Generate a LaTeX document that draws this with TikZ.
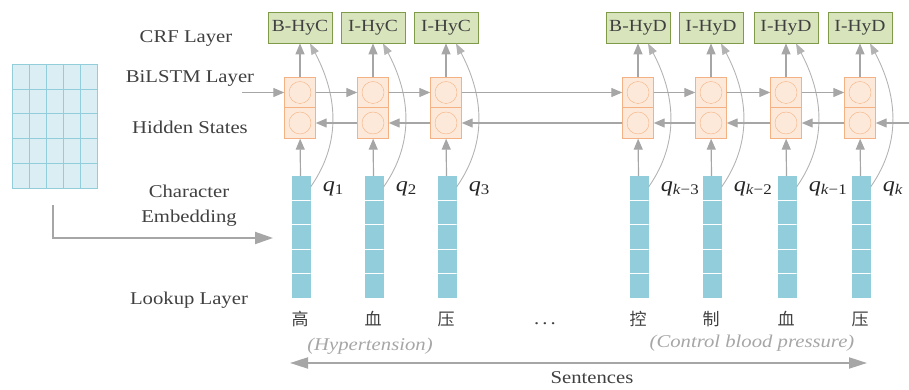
\documentclass[tikz,border=0pt]{standalone}
\usepackage{fontspec}
\setmainfont{Liberation Serif}[FakeStretch=1.15]
\newfontfamily\zhfont{Noto Sans CJK SC}
\usepackage{tikz}
\usetikzlibrary{arrows.meta,positioning,calc}
\definecolor{crfgreen}{HTML}{D8E4BC}
\definecolor{crfline}{HTML}{7F9A48}
\definecolor{cellfill}{HTML}{FDE9D9}
\definecolor{cellline}{HTML}{F4B183}
\definecolor{embblue}{HTML}{92CDDC}
\definecolor{gridfill}{HTML}{DAEEF3}
\definecolor{gridline}{HTML}{92CDDC}
\definecolor{arrowgray}{HTML}{A6A6A6}
\definecolor{textgray}{HTML}{404040}
\newcommand{\qlab}[1]{\textit{q}\textsubscript{#1}}

\begin{document}
\begin{tikzpicture}[x=1pt,y=1pt,
      every node/.style={text=textgray, font=\fontsize{18}{21}\selectfont},
      crf/.style={draw=crfline, fill=crfgreen, thick, minimum width=64pt, minimum height=31pt,
        inner sep=0, font=\fontsize{17}{20}\selectfont},
      cell/.style={draw=cellline, fill=cellfill, minimum size=31pt, inner sep=0,
        path picture={\draw[cellline] (path picture bounding box.center) circle (11pt);}},
      embed/.style={fill=embblue, minimum width=19pt, minimum height=122pt, inner sep=0,
        path picture={\foreach \k in {1,...,4}
          {\draw[white, line width=1pt] ([yshift=-\k*24.4pt]path picture bounding box.north west)
             -- ([yshift=-\k*24.4pt]path picture bounding box.north east);}}},
      lookup/.style={draw=gridline, fill=gridfill, minimum width=85pt, minimum height=124pt, inner sep=0,
        path picture={\foreach \k in {1,...,4}
          {\draw[gridline] ([xshift=\k*17pt]path picture bounding box.south west)
             -- ([xshift=\k*17pt]path picture bounding box.north west);
           \draw[gridline] ([yshift=\k*24.8pt]path picture bounding box.south west)
             -- ([yshift=\k*24.8pt]path picture bounding box.south east);}}},
      flow/.style={draw=arrowgray, line width=1.2pt, -{Triangle[length=11pt,width=9pt]}},
      skip/.style={draw=arrowgray!85, line width=0.9pt, -{Triangle[length=11pt,width=8pt]}},
      bigline/.style={draw=arrowgray, line width=2pt},
      qname/.style={anchor=west, inner sep=1pt, text=black!85, font=\fontsize{21}{24}\selectfont},
      gloss/.style={text=arrowgray, font=\fontsize{18}{21}\selectfont\itshape},
      word/.style={font=\fontsize{17}{20}\selectfont\zhfont}
  ]
  \useasboundingbox (0,0) rectangle (909,390);

  % columns: tag, hidden cells, embedding, character
  \foreach \i/\x/\tg/\q/\cc in {1/300/B-HyC/1/高, 2/373/I-HyC/2/血, 3/446/I-HyC/3/压,
      4/638/B-HyD/\textit{k}−3/控, 5/711/I-HyD/\textit{k}−2/制,
      6/786/I-HyD/\textit{k}−1/血, 7/860/I-HyD/\textit{k}/压} {
    \node[crf] (crf\i) at (\x,362.5) {\tg};
    \node[cell] (fw\i) at (\x,297.5) {};
    \node[cell] (bw\i) at (\x,267) {};
    \node[embed] (emb\i) at (\x+1,153) {};
    \node[word] (ch\i) at (\x,71) {\cc};
    \node[qname] (q\i) at ([xshift=11pt,yshift=-13pt]emb\i.north east) {\qlab{\q}};
    \draw[flow] (fw\i) -- (crf\i);
    \draw[flow] (emb\i) -- (bw\i);
    \draw[skip] ([yshift=-11pt]emb\i.north east) to[out=55,in=-62] ([xshift=10pt]crf\i.south);
  }

  % forward and backward states
  \coordinate (fwin) at (242,297.5);
  \coordinate (bwin) at (909,267);
  \draw[flow] (fwin) -- (fw1);
  \draw[flow] (bwin) -- (bw7);
  \foreach \i/\j in {1/2,2/3,3/4,4/5,5/6,6/7} {
    \draw[flow] (fw\i) -- (fw\j);
    \draw[flow] (bw\j) -- (bw\i);
  }

  % lookup table
  \node[lookup] (table) at (54.5,264) {};
  \coordinate (embin) at (273,152);
  \draw[bigline, -{Triangle[length=18pt,width=12pt]}] ([xshift=-2pt,yshift=-17pt]table.south) |- (embin);

  % layer names
  \node (crflab) at (186,352) {CRF Layer};
  \node (lstmlab) at (190,312) {BiLSTM Layer};
  \node (hidlab) at (190,263) {Hidden States};
  \node[align=center, font=\fontsize{18}{25}\selectfont] (charlab) at (189,184.5) {Character\\Embedding};
  \node (looklab) at (189,90) {Lookup Layer};

  % sentence
  \node (dots) at (545,66) {.\,.\,.};
  \node[gloss] (hyc) at (370,44) {(Hypertension)};
  \node[gloss] (hyd) at (752,47) {(Control blood pressure)};
  \coordinate (sl) at (290,27);
  \coordinate (sr) at (867,27);
  \draw[bigline, {Triangle[length=18pt,width=11pt]}-{Triangle[length=18pt,width=11pt]}] (sl) -- (sr);
  \node (sent) at (592,12) {Sentences};

\end{tikzpicture}
\end{document}
